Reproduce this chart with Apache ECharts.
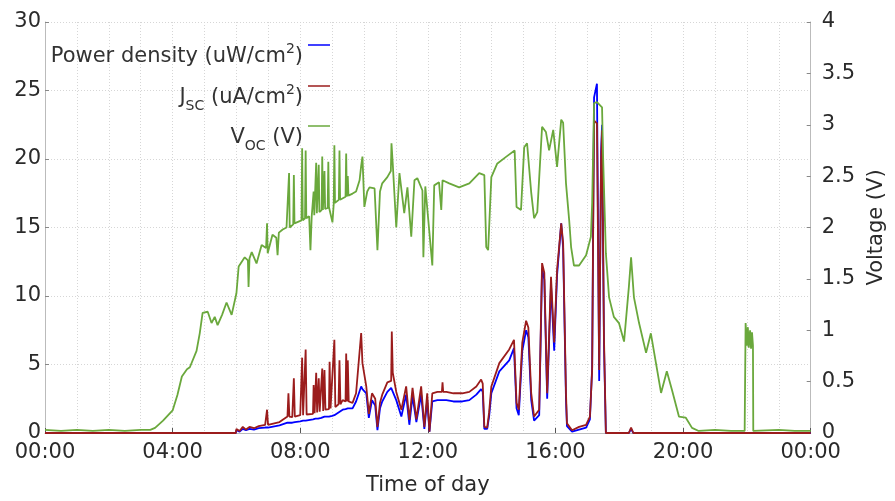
<!DOCTYPE html>
<html>
<head>
<meta charset="utf-8">
<script src="https://cdn.jsdelivr.net/npm/echarts@6/dist/echarts.min.js"></script>
<style>
  html, body { margin: 0; padding: 0; background: #fff; }
  #chart { width: 895px; height: 501px; }
</style>
</head>
<body>
<div id="chart"></div>
<script>
// hours of day (0-24) for the open-circuit voltage trace
const vocTime = [
  0, 0.5, 1, 1.5, 2, 2.5, 3, 3.3, 3.45, 3.7, 4, 4.15, 4.29, 4.45, 4.54, 4.75, 4.85, 4.94,
  5.1, 5.22, 5.32, 5.41, 5.55, 5.69, 5.85, 6, 6.07, 6.26, 6.36, 6.38, 6.41, 6.48, 6.63, 6.79,
  6.93, 6.96, 6.98, 7.13, 7.25, 7.29, 7.33, 7.45, 7.57, 7.63, 7.65, 7.67, 7.78, 7.8, 7.82,
  8.04, 8.06, 8.08, 8.15, 8.17, 8.19, 8.28, 8.32, 8.36, 8.4, 8.42, 8.44, 8.48, 8.5, 8.52,
  8.56, 8.58, 8.6, 8.67, 8.69, 8.71, 8.74, 8.76, 8.78, 8.86, 8.88, 8.9, 9.01, 9.05, 9.07,
  9.09, 9.21, 9.23, 9.25, 9.42, 9.44, 9.46, 9.49, 9.51, 9.64, 9.75, 9.86, 9.91, 9.95,
  10.01, 10.1, 10.17, 10.33, 10.42, 10.5, 10.57, 10.73, 10.84, 10.86, 10.9, 11.01, 11.11,
  11.26, 11.36, 11.48, 11.58, 11.67, 11.83, 11.86, 11.92, 11.98, 12.14, 12.2, 12.35, 12.42,
  12.46, 12.67, 12.98, 13.3, 13.61, 13.77, 13.83, 13.89, 13.99, 14.17, 14.46, 14.72, 14.78,
  14.92, 15.02, 15.11, 15.24, 15.33, 15.43, 15.58, 15.7, 15.8, 15.93, 16.05, 16.18, 16.24,
  16.33, 16.43, 16.49, 16.58, 16.74, 16.96, 17.11, 17.15, 17.21, 17.3, 17.46, 17.49, 17.58,
  17.68, 17.83, 17.99, 18.15, 18.3, 18.37, 18.46, 18.62, 18.84, 18.99, 19.15, 19.31, 19.49,
  19.65, 19.87, 20.08, 20.28, 20.49, 21, 21.5, 21.93, 21.96, 22, 22.03, 22.06, 22.1, 22.13,
  22.16, 22.19, 22.2, 23, 23.5, 24
];
const vocValues = [
  0.03, 0.02, 0.03, 0.02, 0.03, 0.02, 0.03, 0.03, 0.05, 0.12, 0.22, 0.37, 0.55, 0.62, 0.64, 0.8, 0.97, 1.17,
  1.18, 1.07, 1.13, 1.05, 1.15, 1.27, 1.15, 1.36, 1.62, 1.71, 1.68, 1.42, 1.7, 1.76, 1.65, 1.83,
  1.8, 2.04, 1.75, 1.93, 1.9, 1.73, 1.95, 1.98, 2.0, 1.99, 2.53, 2.0, 2.03, 2.51, 2.04,
  2.07, 2.77, 2.07, 2.09, 2.75, 2.09, 2.11, 1.78, 2.11, 2.12, 2.35, 2.12, 2.13, 2.63, 2.14,
  2.15, 2.61, 2.15, 2.17, 2.69, 2.17, 2.18, 2.55, 2.18, 2.19, 2.64, 2.2, 2.05, 2.23, 2.8,
  2.24, 2.27, 2.75, 2.27, 2.3, 2.72, 2.3, 2.5, 2.31, 2.33, 2.35, 2.46, 2.6, 2.69,
  2.2, 2.35, 2.39, 2.38, 1.78, 2.35, 2.43, 2.49, 2.55, 2.82, 2.62, 2.0, 2.53,
  2.14, 2.39, 1.91, 2.46, 2.48, 2.36, 1.71, 2.4, 2.41, 1.63, 2.41, 2.44, 2.17,
  2.46, 2.43, 2.39, 2.43, 2.53, 2.51, 1.81, 1.78, 2.49, 2.62, 2.69, 2.75, 2.2,
  2.17, 2.78, 2.82, 2.34, 2.09, 2.15, 2.98, 2.93, 2.75, 2.95, 2.59, 3.05, 3.02,
  2.43, 2.07, 1.81, 1.63, 1.63, 1.73, 1.91, 2.24, 3.21, 3.22, 3.17, 2.72, 1.75,
  1.32, 1.13, 1.07, 0.89, 1.42, 1.71, 1.32, 1.07, 0.78, 0.97, 0.68, 0.39, 0.6,
  0.42, 0.16, 0.15, 0.05, 0.02, 0.03, 0.02, 0.02, 1.07, 0.85, 1.03, 0.83, 1.0, 0.82,
  0.98, 0.85, 0.02, 0.03, 0.02, 0.02
];

// hours of day for the current / power traces
const jscTime = [
  0, 5.98, 6, 6.1, 6.2, 6.3, 6.41, 6.55, 6.7, 6.9, 6.96, 6.99, 7.35, 7.6, 7.63, 7.66, 7.75,
  7.8, 7.83, 8.0, 8.06, 8.09, 8.14, 8.17, 8.2, 8.4, 8.42, 8.45, 8.48, 8.5, 8.53, 8.56, 8.58,
  8.61, 8.66, 8.69, 8.72, 8.74, 8.76, 8.79, 8.9, 8.92, 8.95, 9.0, 9.07, 9.1, 9.2, 9.23, 9.26,
  9.33, 9.42, 9.44, 9.47, 9.49, 9.52, 9.64, 9.75, 9.91, 9.95, 10.07, 10.15, 10.25, 10.35,
  10.42, 10.5, 10.57, 10.73, 10.85, 10.87, 10.9, 11.01, 11.17, 11.32, 11.42, 11.52, 11.64,
  11.79, 11.89, 11.98, 12.05, 12.14, 12.3, 12.44, 12.46, 12.48, 12.58, 12.8, 13.08, 13.3,
  13.52, 13.67, 13.72, 13.77, 13.86, 13.92, 13.99, 14.24, 14.55, 14.7, 14.78, 14.85, 14.96,
  15.08, 15.15, 15.24, 15.33, 15.49, 15.58, 15.65, 15.74, 15.86, 15.96, 16.05, 16.18, 16.24,
  16.33, 16.36, 16.52, 16.74, 16.96, 17.08, 17.15, 17.18, 17.21, 17.3, 17.37, 17.43, 17.46,
  17.52, 17.58, 18.3, 18.37, 18.44, 24
];
// short-circuit current density, uA/cm2
const jscValues = [
  0, 0, 0.3, 0.15, 0.45, 0.25, 0.45, 0.35, 0.5, 0.6, 1.7, 0.6, 0.8, 1.2, 2.9, 1.2, 1.15,
  4.0, 1.2, 1.3, 5.5, 1.3, 1.35, 6.1, 1.35, 1.4, 3.5, 1.45, 1.5, 4.4, 1.5, 1.5, 4.0,
  1.55, 1.6, 4.7, 1.6, 1.65, 4.6, 1.7, 1.75, 5.2, 1.8, 1.8, 6.8, 1.9, 2.1, 5.3, 2.1,
  2.4, 2.3, 5.8, 2.3, 5.3, 2.3, 2.2, 2.9, 7.3, 5.1, 3.4, 1.4, 2.9, 2.5,
  0.45, 2.2, 2.8, 3.7, 3.8, 7.4, 4.4, 3.0, 1.7, 3.4, 0.95, 3.3, 1.0,
  3.4, 0.45, 2.9, 0.1, 2.9, 3.0, 3.0, 3.7, 3.0, 3.0, 2.9, 2.9, 3.0,
  3.4, 3.9, 3.6, 0.45, 0.4, 1.5, 3.4, 5.1, 6.1, 6.8, 2.2, 1.7, 6.6,
  8.2, 7.7, 2.9, 1.2, 1.7, 12.4, 11.7, 2.9, 11.4, 6.6, 11.9, 15.3, 13.9,
  2.9, 0.7, 0.2, 0.45, 0.6, 1.2, 4.6, 14.3, 22.8, 22.6, 4.6, 19.9, 22.1,
  7.0, 0, 0, 0.4, 0, 0
];
// power density, uW/cm2
const powerValues = [
  0, 0, 0.2, 0.1, 0.3, 0.2, 0.3, 0.25, 0.35, 0.4, 0.4, 0.4, 0.55, 0.75, 0.75, 0.75, 0.75,
  0.8, 0.8, 0.85, 0.9, 0.9, 0.9, 0.9, 0.95, 1.0, 1.0, 1.0, 1.05, 1.05, 1.05, 1.05, 1.1,
  1.1, 1.1, 1.15, 1.15, 1.15, 1.2, 1.2, 1.2, 1.2, 1.2, 1.25, 1.3, 1.35, 1.5, 1.5, 1.5,
  1.7, 1.75, 1.75, 1.75, 1.8, 1.8, 1.8, 2.3, 3.4, 3.2, 2.9, 1.1, 2.4, 2.0,
  0.2, 1.8, 2.3, 3.0, 3.3, 3.4, 3.3, 2.4, 1.2, 2.8, 0.6, 2.7, 0.8,
  2.8, 0.3, 2.4, 0.1, 2.3, 2.4, 2.4, 2.5, 2.4, 2.4, 2.3, 2.3, 2.4,
  2.8, 3.2, 3.0, 0.3, 0.3, 1.2, 2.9, 4.5, 5.3, 6.2, 1.8, 1.3, 6.0,
  7.5, 7.0, 2.4, 0.9, 1.3, 12.0, 11.2, 2.5, 10.8, 6.0, 11.5, 15.3, 13.5,
  2.4, 0.5, 0.1, 0.25, 0.4, 1.0, 4.8, 15.0, 24.5, 25.5, 3.8, 20.5, 22.5,
  6.5, 0, 0, 0.3, 0, 0
];

const xTicks = [0, 4, 8, 12, 16, 20, 24];

const zip = (xs, ys) => xs.map((x, i) => [x, ys[i]]);

const chart = echarts.init(document.getElementById('chart'));

const legendText = {
  fontFamily: 'DejaVu Sans',
  fontSize: 21,
  color: '#333',
  lineHeight: 30,
  padding: [24, 0, 0, 0],
  rich: {
    n: { fontFamily: 'DejaVu Sans', fontSize: 21, color: '#333' },
    sup: { fontFamily: 'DejaVu Sans', fontSize: 14, color: '#333', verticalAlign: 'top' },
    sub: { fontFamily: 'DejaVu Sans', fontSize: 14, color: '#333', verticalAlign: 'bottom' }
  }
};
const legendLabels = {
  'Power density': '{n|Power density (uW/cm}{sup|2}{n|)}',
  'Jsc': '{n|J}{sub|SC}{n| (uA/cm}{sup|2}{n|)}',
  'Voc': '{n|V}{sub|OC}{n| (V)}'
};
const makeLegend = (name, top) => ({
  data: [name],
  right: 565,
  top: top,
  padding: 0,
  align: 'right',
  icon: 'rect',
  itemWidth: 22,
  itemHeight: 1.5,
  selectedMode: false,
  textStyle: legendText,
  formatter: n => legendLabels[n]
});

const axisFont = { fontFamily: 'DejaVu Sans', fontSize: 21, color: '#2a2a2a' };
const gridLine = { show: true, lineStyle: { color: '#d6d6d6', type: [1, 2], width: 1 } };

const option = {
  backgroundColor: '#fff',
  animation: false,
  grid: { left: 45, right: 83, top: 22, bottom: 68 },
  legend: [
    makeLegend('Power density', 18),
    makeLegend('Jsc', 59),
    makeLegend('Voc', 99)
  ],
  xAxis: {
    type: 'value',
    min: 0,
    max: 24,
    interval: 4,
    name: 'Time of day',
    nameLocation: 'middle',
    nameGap: 42,
    nameTextStyle: axisFont,
    axisLine: { show: true, lineStyle: { color: '#bbb' } },
    axisTick: { show: true, inside: true, length: 5, lineStyle: { color: '#555' } },
    axisLabel: Object.assign({
      margin: 9,
      formatter: v => xTicks.includes(v) ? String(v % 24).padStart(2, '0') + ':00' : ''
    }, axisFont),
    splitLine: gridLine,
    minorTick: { show: false, splitNumber: 4 },
    minorSplitLine: gridLine
  },
  yAxis: [
    {
      type: 'value',
      min: 0,
      max: 30,
      interval: 5,
      axisLine: { show: true, lineStyle: { color: '#bbb' } },
      axisTick: { show: true, inside: true, length: 4, lineStyle: { color: '#888' } },
      axisLabel: Object.assign({ margin: 4 }, axisFont),
      splitLine: gridLine
    },
    {
      type: 'value',
      min: 0,
      max: 4,
      interval: 0.5,
      position: 'right',
      name: 'Voltage (V)',
      nameLocation: 'middle',
      nameRotate: 90,
      nameGap: 55,
      nameTextStyle: axisFont,
      axisLine: { show: true, lineStyle: { color: '#bbb' } },
      axisTick: { show: true, inside: true, length: 4, lineStyle: { color: '#888' } },
      axisLabel: Object.assign({ margin: 11 }, axisFont),
      splitLine: { show: false }
    }
  ],
  series: [
    {
      name: 'Power density',
      type: 'line',
      yAxisIndex: 0,
      showSymbol: false,
      symbol: 'none',
      color: '#0000ff',
      lineStyle: { color: '#0000ff', width: 1.8 },
      data: zip(jscTime, powerValues)
    },
    {
      name: 'Jsc',
      type: 'line',
      yAxisIndex: 0,
      showSymbol: false,
      symbol: 'none',
      color: '#9b1c1c',
      lineStyle: { color: '#9b1c1c', width: 1.8 },
      data: zip(jscTime, jscValues)
    },
    {
      name: 'Voc',
      type: 'line',
      yAxisIndex: 1,
      showSymbol: false,
      symbol: 'none',
      color: '#6aa83c',
      lineStyle: { color: '#6aa83c', width: 1.8 },
      data: zip(vocTime, vocValues)
    }
  ]
};

chart.setOption(option);
</script>
</body>
</html>
